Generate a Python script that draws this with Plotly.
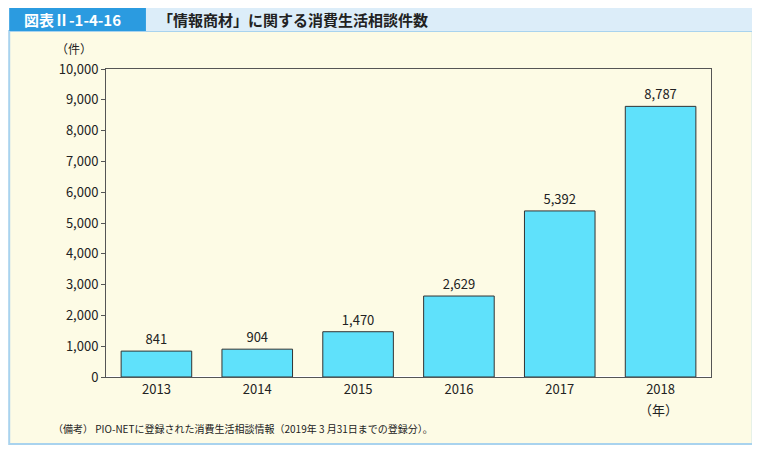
import plotly.graph_objects as go

years = ["2013", "2014", "2015", "2016", "2017", "2018"]
counts = [841, 904, 1470, 2629, 5392, 8787]
yticks = list(range(0, 10001, 1000))

fig = go.Figure(go.Bar(
    x=years, y=counts, width=0.7,
    marker=dict(color="#5fe1fb", line=dict(color="#333333", width=1)),
    text=[f"{v:,}" for v in counts], textposition="outside",
    textfont=dict(size=13, color="#222"), cliponaxis=False,
))
F = "Noto Sans CJK JP"
fig.update_layout(
    width=760, height=451, margin=dict(l=98, r=57, t=61, b=82),
    paper_bgcolor="white", plot_bgcolor="white", showlegend=False,
    font=dict(family=F, color="#222", size=13),
    xaxis=dict(showline=True, linecolor="#555", mirror=True, ticks="", tickfont=dict(size=13)),
    yaxis=dict(range=[0, 10000], tickvals=yticks, tickformat=",", showgrid=False,
               showline=True, linecolor="#555", mirror=True, ticks="outside", ticklen=4,
               tickcolor="#555", tickfont=dict(size=13)),
    shapes=[
        dict(type="rect", xref="paper", yref="paper", x0=-0.16, x1=1.069, y0=-0.2175, y1=1.123,
             fillcolor="#fdfbe5", line=dict(color="#a9d3ee", width=2), layer="below"),
        dict(type="rect", xref="paper", yref="paper", x0=-0.16, x1=1.069, y0=1.123, y1=1.2,
             fillcolor="#dcedf9", line=dict(width=0), layer="below"),
        dict(type="rect", xref="paper", yref="paper", x0=-0.16, x1=0.066, y0=1.123, y1=1.2,
             fillcolor="#2b9be0", line=dict(width=0), layer="below"),
    ],
    annotations=[
        dict(text="<b>図表Ⅱ-1-4-16</b>", xref="paper", yref="paper", x=-0.055, y=1.162, showarrow=False,
             font=dict(size=15, color="white"), xanchor="center", yanchor="middle"),
        dict(text="<b>「情報商材」に関する消費生活相談件数</b>", xref="paper", yref="paper", x=0.083, y=1.162,
             showarrow=False, font=dict(size=15, color="#222"), xanchor="left", yanchor="middle"),
        dict(text="（件）", xref="paper", yref="paper", x=-0.053, y=1.065, showarrow=False,
             font=dict(size=12), xanchor="center", yanchor="middle"),
        dict(text="（年）", xref="paper", yref="paper", x=0.914, y=-0.104, showarrow=False,
             font=dict(size=13), xanchor="center", yanchor="middle"),
        dict(text="（備考） PIO-NETに登録された消費生活相談情報（2019年 3 月31日までの登録分）。",
             xref="paper", yref="paper", x=-0.091, y=-0.166, showarrow=False,
             font=dict(size=10), xanchor="left", yanchor="middle"),
    ],
)
fig.write_html("out.html")
